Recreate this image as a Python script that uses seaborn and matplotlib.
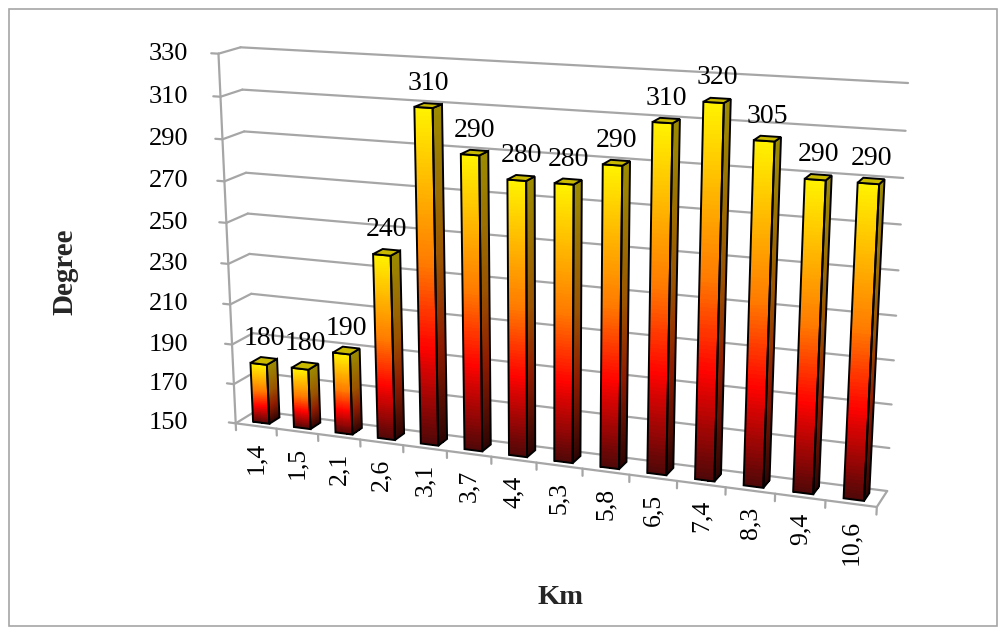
import numpy as np
import matplotlib
matplotlib.use("Agg")
import matplotlib.pyplot as plt
import matplotlib.transforms as mtransforms
from matplotlib.colors import LinearSegmentedColormap
from matplotlib.patches import Rectangle
import seaborn as sns

# ---- data -------------------------------------------------------------
distance_km = ["1,4", "1,5", "2,1", "2,6", "3,1", "3,7", "4,4",
               "5,3", "5,8", "6,5", "7,4", "8,3", "9,4", "10,6"]
degree = [180, 180, 190, 240, 310, 290, 280, 280, 290, 310, 320, 305, 290, 290]
value_ticks = [150, 170, 190, 210, 230, 250, 270, 290, 310, 330]
Y_MIN, Y_MAX = 150, 330

# ---- canvas -----------------------------------------------------------
W_PX, H_PX = 1006, 635
sns.set_theme(style="white")
plt.rcParams["font.family"] = ["Liberation Serif", "DejaVu Serif"]

fig = plt.figure(figsize=(W_PX / 100, H_PX / 100), dpi=100)
ax = fig.add_axes([0, 0, 1, 1])
ax.set_axis_off()

n = len(distance_km)
x_lo, x_hi = -0.5, n - 0.5

# Perspective view of the plot box: canvas position (px, py from top) of
# the box corners given as (category fraction, value fraction, depth).
box_view = [
    ((0, 0, 0), (236, 423)),
    ((1, 0, 0), (877, 507)),
    ((1, 0, 1), (887, 491)),
    ((0, 1, 1), (241, 47)),
    ((0, 1, 0), (218, 54)),
    ((1, 1, 1), (908, 83)),
    ((0, 0, 1), (256, 411)),
]
rows = []
for (X, Y, Z), (u, v) in box_view:
    u, v = u / 1000.0, v / 1000.0
    rows.append([X, Y, Z, 1, 0, 0, 0, 0, -u * X, -u * Y, -u * Z, -u])
    rows.append([0, 0, 0, 0, X, Y, Z, 1, -v * X, -v * Y, -v * Z, -v])
_, _, vt = np.linalg.svd(np.asarray(rows, float))
CAM = vt[-1].reshape(3, 4)


def project(x, y, z):
    X = (np.atleast_1d(np.asarray(x, float)) - x_lo) / (x_hi - x_lo)
    Y = (np.atleast_1d(np.asarray(y, float)) - Y_MIN) / (Y_MAX - Y_MIN)
    Z = np.broadcast_to(np.asarray(z, float), X.shape)
    h = CAM @ np.vstack([X, Y, Z, np.ones_like(X)])
    return h[0] / h[2] * 1000.0, h[1] / h[2] * 1000.0


class PlaneTransform(mtransforms.Transform):
    """Maps 2-D coordinates lying in one plane of the 3-D box to pixels.

    axis='z': input (category, value) at fixed depth
    axis='x': input (depth, value) at fixed category position
    axis='y': input (category, depth) at fixed value
    """
    input_dims = 2
    output_dims = 2

    def __init__(self, axis, level):
        super().__init__()
        self.axis = axis
        self.level = level

    def transform_non_affine(self, values):
        pts = np.asarray(values, float)
        shape = pts.shape
        pts = pts.reshape(-1, 2)
        a, b = pts[:, 0], pts[:, 1]
        c = np.full_like(a, self.level)
        if self.axis == "z":
            x, y, z = a, b, c
        elif self.axis == "x":
            x, y, z = c, b, a
        else:
            x, y, z = a, c, b
        px, py = project(x, y, z)
        out = np.column_stack([px, H_PX - py])
        return out.reshape(shape)


def shifted(tr, dx, dy):
    return mtransforms.offset_copy(tr, fig=fig, x=dx, y=dy, units="dots")


# ---- colours ----------------------------------------------------------
fire_stops = [(0.0, "#4D0808"), (0.3, "#FF0300"), (0.55, "#FF7A00"), (1.0, "#FFF200")]
fire = LinearSegmentedColormap.from_list("fire", fire_stops)
fire_side = LinearSegmentedColormap.from_list(
    "fire_side", [(0.0, "#2A0404"), (0.3, "#8E1A00"), (0.55, "#9A5200"), (1.0, "#9C8C00")])
top_color = "#C9BA00"
grid_color = "#A6A6A6"

back_wall = PlaneTransform("z", 1.0)
left_wall = PlaneTransform("x", x_lo)
floor = PlaneTransform("y", Y_MIN)
front_axis = PlaneTransform("z", 0.0)
pixels = mtransforms.IdentityTransform()
VALUE_LABEL_RIGHT = 188  # value-axis labels share one right edge on the canvas

# ---- walls, floor and axes --------------------------------------------
for yv in value_ticks:
    ax.plot([x_lo, x_hi], [yv, yv], transform=back_wall, color=grid_color, lw=1.6, zorder=1)
    ax.plot([0, 1], [yv, yv], transform=left_wall, color=grid_color, lw=1.6, zorder=1)
    ax.plot([x_lo - 0.17, x_lo], [yv, yv], transform=front_axis, color=grid_color, lw=1.6, zorder=1)
    tick_py = float(project(x_lo, yv, 0.0)[1][0])
    ax.text(VALUE_LABEL_RIGHT, H_PX - tick_py, str(yv), transform=pixels,
            ha="right", va="center", fontsize=19, color="black")

ax.plot([x_lo, x_hi, x_hi], [0, 0, 1], transform=floor, color=grid_color, lw=1.6, zorder=1)
ax.plot([x_lo, x_lo], [Y_MIN, Y_MAX], transform=front_axis, color=grid_color, lw=1.6, zorder=1)
for xb in np.arange(x_lo, x_hi + 0.01, 1.0):
    ax.plot([xb, xb], [Y_MIN, Y_MIN - 3.5], transform=front_axis, color=grid_color, lw=1.6, zorder=1)

# ---- bars -------------------------------------------------------------
z_front, z_back = 0.25, 0.75
sns.barplot(x=distance_km, y=degree, ax=ax, width=0.4, errorbar=None, color="#FF7A00")
bar_front = PlaneTransform("z", z_front)

for bar, val in zip(ax.patches, degree):
    x0, w = bar.get_x(), bar.get_width()
    bar.set_y(Y_MIN)
    bar.set_height(val - Y_MIN)
    bar.set_transform(bar_front)
    bar.set_facecolor("none")
    bar.set_edgecolor("black")
    bar.set_linewidth(1.4)
    bar.set_zorder(4)

    ys = np.linspace(Y_MIN, val, 90)
    shade = ((ys[:-1] + ys[1:]) / 2 - Y_MIN) / (val - Y_MIN)
    ax.pcolormesh([x0, x0 + w], ys, shade[:, None], cmap=fire, vmin=0, vmax=1,
                  transform=bar_front, zorder=3)

    side = PlaneTransform("x", x0 + w)
    ax.pcolormesh([z_front, z_back], ys, shade[:, None], cmap=fire_side, vmin=0, vmax=1,
                  transform=side, zorder=3)
    ax.add_patch(Rectangle((z_front, Y_MIN), z_back - z_front, val - Y_MIN,
                           transform=side, facecolor="none", edgecolor="black",
                           lw=1.4, zorder=4))
    ax.add_patch(Rectangle((x0, z_front), w, z_back - z_front,
                           transform=PlaneTransform("y", val), facecolor=top_color,
                           edgecolor="black", lw=1.4, zorder=4))

    ax.text(x0 + w / 2, val, str(val), transform=shifted(PlaneTransform("z", 0.5), 0, 10),
            ha="center", va="bottom", fontsize=20, color="black", zorder=5)

for i, lab in enumerate(distance_km):
    ax.text(i, Y_MIN, lab, transform=shifted(front_axis, 0, -16), rotation=90,
            ha="center", va="top", fontsize=18.5, color="black")

# ---- titles and chart border ------------------------------------------
fig.text(65 / W_PX, 1 - 272 / H_PX, "Degree", rotation=90, ha="center", va="center",
         fontsize=21, fontweight="bold")
fig.text(560 / W_PX, 1 - 598 / H_PX, "Km", ha="center", va="center",
         fontsize=20.5, fontweight="bold")
fig.add_artist(Rectangle((9 / W_PX, 9 / H_PX), 988 / W_PX, 617 / H_PX,
                         transform=fig.transFigure, facecolor="none",
                         edgecolor="#A6A6A6", lw=1.2))

fig.savefig("out.png", dpi=100)
